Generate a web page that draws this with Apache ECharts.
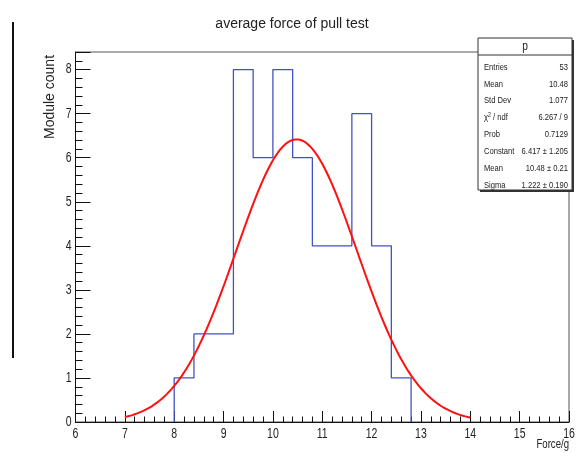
<!DOCTYPE html>
<html>
<head>
<meta charset="utf-8">
<script src="https://cdn.jsdelivr.net/npm/echarts@6/dist/echarts.min.js"></script>
<style>
  html, body { margin: 0; padding: 0; background: #fff; }
  #chart { width: 577px; height: 453px; }
</style>
</head>
<body>
<div id="chart"></div>
<script>
// Histogram of the average pull force, bins of 0.4 g
const binLow = [8.0, 8.4, 8.8, 9.2, 9.6, 10.0, 10.4, 10.8, 11.2, 11.6, 12.0, 12.4];
const binHigh = 12.8;
const counts = [1, 2, 2, 8, 6, 8, 6, 4, 4, 7, 4, 1];

// Gaussian fit result, drawn over the fit range
const fitConstant = 6.417;
const fitMean = 10.48;
const fitSigma = 1.222;
const fitRange = [7, 14];

// Statistics box rows
const statsTitle = 'p';
const statsNames = ['Entries', 'Mean', 'Std Dev', '{c|χ}{s|2}{c| / ndf}', 'Prob', 'Constant', 'Mean', 'Sigma'];
const statsValues = ['53', '10.48', '1.077', '6.267 / 9', '0.7129', '6.417 ± 1.205', '10.48 ± 0.21', '1.222 ± 0.190'];

// Axis ranges and labelled ticks
const xRange = [6, 16];
const yRange = [0, 8.4];
const xTickLabels = [6, 7, 8, 9, 10, 11, 12, 13, 14, 15, 16];
const yTickLabels = [0, 1, 2, 3, 4, 5, 6, 7, 8];

const SANS = '"Liberation Sans", Arial, sans-serif';
const INK = '#222';

// Outline of the histogram as a step line
const histPoints = [[binLow[0], 0]];
binLow.forEach((x, i) => histPoints.push([x, counts[i]]));
histPoints.push([binHigh, 0]);

// Fit function evaluated on the fit range
const fitPoints = [];
for (let x = fitRange[0]; x <= fitRange[1] + 1e-9; x += 0.05) {
  const z = (x - fitMean) / fitSigma;
  fitPoints.push([x, fitConstant * Math.exp(-0.5 * z * z)]);
}

const chart = echarts.init(document.getElementById('chart'), null, { renderer: 'canvas' });

// Condensed text helper (narrow glyphs, as in the ROOT canvas)
function narrowText(x, y, text, size, align, vAlign, sx, extra) {
  return Object.assign({
    type: 'text', x: x, y: y, scaleX: sx, z: 103,
    style: { text: text, font: size + 'px ' + SANS, fill: INK, align: align, verticalAlign: vAlign }
  }, extra || {});
}

// Statistics box graphic
const boxL = 478, boxT = 38, boxW = 94, boxH = 152, headH = 17;
const rowTop = 67, rowStep = 16.9;
const statsGraphic = [
  { type: 'rect', shape: { x: boxL + 2, y: boxT + 2, width: boxW, height: boxH }, style: { fill: '#333' }, z: 100 },
  { type: 'rect', shape: { x: boxL, y: boxT, width: boxW, height: boxH }, style: { fill: '#fff', stroke: '#333', lineWidth: 1 }, z: 101 },
  { type: 'line', shape: { x1: boxL, y1: boxT + headH, x2: boxL + boxW, y2: boxT + headH }, style: { stroke: '#333', lineWidth: 1 }, z: 102 },
  narrowText(boxL + boxW / 2, boxT + headH / 2 + 0.5, statsTitle, 12, 'center', 'middle', 0.85)
];
statsNames.forEach((name, i) => {
  const t = narrowText(boxL + 6, rowTop + i * rowStep, name, 9.5, 'left', 'middle', 0.8);
  t.style.rich = {
    c: { fontSize: 9.5, fontFamily: SANS, fill: INK },
    s: { fontSize: 6.5, fontFamily: SANS, fill: INK, verticalAlign: 'top', padding: [0, 0, 5, 0] }
  };
  statsGraphic.push(t);
  statsGraphic.push(narrowText(boxL + boxW - 4, rowTop + i * rowStep, statsValues[i], 9.5, 'right', 'middle', 0.8));
});

// Tick labels placed through the axes' own coordinate system
function xLabelItem(params, api) {
  const p = api.coord([api.value(0), yRange[0]]);
  return { type: 'text', x: p[0], y: p[1] + 5, scaleX: 0.75,
    style: { text: String(api.value(0)), font: '14px ' + SANS, fill: INK, align: 'center', verticalAlign: 'top' } };
}
function yLabelItem(params, api) {
  const p = api.coord([xRange[0], api.value(1)]);
  return { type: 'text', x: p[0] - 4, y: p[1], scaleX: 0.75,
    style: { text: String(api.value(1)), font: '14px ' + SANS, fill: INK, align: 'right', verticalAlign: 'middle' } };
}

const option = {
  backgroundColor: '#ffffff',
  animation: false,
  grid: { left: 75.5, right: 8, top: 52, bottom: 31, show: true, borderColor: '#555', borderWidth: 1, backgroundColor: 'transparent' },
  xAxis: {
    type: 'value', min: xRange[0], max: xRange[1], interval: 1,
    axisLine: { show: true, onZero: false, lineStyle: { color: '#111', width: 1 } },
    axisTick: { show: true, inside: true, length: 11, lineStyle: { color: '#111', width: 1 } },
    minorTick: { show: true, splitNumber: 5, length: 5.5, lineStyle: { color: '#111', width: 1 } },
    splitLine: { show: false },
    axisLabel: { show: false }
  },
  yAxis: [
    {
      type: 'value', min: yRange[0], max: yRange[1], interval: 1,
      axisLine: { show: true, onZero: false, lineStyle: { color: '#111', width: 1 } },
      axisTick: { show: true, inside: true, length: 15, lineStyle: { color: '#111', width: 1 } },
      splitLine: { show: false },
      axisLabel: { show: false }
    },
    {
      // secondary axis carrying only the 0.2 subdivision ticks
      type: 'value', min: yRange[0], max: yRange[1], interval: 0.2, position: 'left',
      axisLine: { show: false },
      axisTick: { show: true, inside: true, length: 7, lineStyle: { color: '#111', width: 1 } },
      splitLine: { show: false },
      axisLabel: { show: false }
    }
  ],
  series: [
    {
      name: 'p', type: 'line', step: 'end', data: histPoints, showSymbol: false, symbol: 'none',
      lineStyle: { color: '#4152c2', width: 1.3 }, z: 3
    },
    {
      name: 'gaus', type: 'line', data: fitPoints, showSymbol: false, symbol: 'none', smooth: false,
      lineStyle: { color: '#ff1010', width: 2 }, z: 4
    },
    {
      name: 'xlabels', type: 'custom', clip: false, silent: true,
      data: xTickLabels.map(v => [v, yRange[0]]), renderItem: xLabelItem, z: 5
    },
    {
      name: 'ylabels', type: 'custom', clip: false, silent: true,
      data: yTickLabels.map(v => [xRange[0], v]), renderItem: yLabelItem, z: 5
    }
  ],
  graphic: [
    { type: 'text', x: 292, y: 24, z: 50,
      style: { text: 'average force of pull test', font: '14px ' + SANS, fill: INK, align: 'center', verticalAlign: 'middle' } },
    { type: 'text', x: 50, y: 97, rotation: Math.PI / 2, z: 50,
      style: { text: 'Module count', font: '14px ' + SANS, fill: INK, align: 'center', verticalAlign: 'middle' } },
    narrowText(569, 445, 'Force/g', 12, 'right', 'middle', 0.8, { z: 50 }),
    { type: 'line', shape: { x1: 13, y1: 22, x2: 13, y2: 358 }, style: { stroke: '#111', lineWidth: 2 }, z: 50 }
  ].concat(statsGraphic)
};

chart.setOption(option);
</script>
</body>
</html>
